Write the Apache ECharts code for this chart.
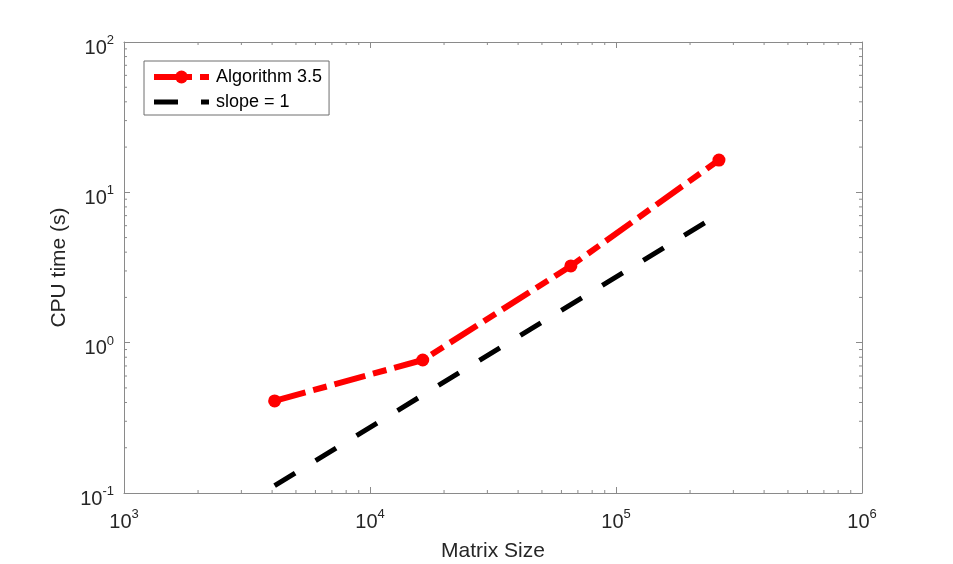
<!DOCTYPE html>
<html>
<head>
<meta charset="utf-8">
<title>CPU time vs Matrix Size</title>
<script src="https://cdn.jsdelivr.net/npm/echarts@6/dist/echarts.min.js"></script>
<style>
html,body{margin:0;padding:0;background:#fff;}
#main{width:953px;height:564px;}
</style>
</head>
<body>
<div id="main"></div>
<script>
// data
var matrixSize = [4096, 16384, 65536, 262144];
var cpuTime = [0.41, 0.767, 3.24, 16.4];
var slopeX = [4096, 262144];
var slopeY = [0.112, 7.17];

// axis ranges and minor tick values
var xRange = [1e3, 1e6];
var yRange = [1e-1, 1e2];
var minorTicksX = [2000, 3000, 4000, 5000, 6000, 7000, 8000, 9000,
	20000, 30000, 40000, 50000, 60000, 70000, 80000, 90000,
	200000, 300000, 400000, 500000, 600000, 700000, 800000, 900000];
var minorTicksY = [0.2, 0.3, 0.4, 0.5, 0.6, 0.7, 0.8, 0.9,
	2, 3, 4, 5, 6, 7, 8, 9,
	20, 30, 40, 50, 60, 70, 80, 90];

var FONT = "'Liberation Sans', Arial, Helvetica, sans-serif";
var TXT = '#262626';
var AX = '#8a8a8a';

function pairs(xs, ys){
	var out = [];
	for (var i = 0; i < xs.length; i++) out.push([xs[i], ys[i]]);
	return out;
}

function powLabel(value){
	var e = Math.round(Math.log10(value));
	return '{b|10}{s|' + e + '}';
}

var richPow = {
	b: {fontSize: 20, fontFamily: FONT, color: TXT, lineHeight: 24},
	s: {fontSize: 13, fontFamily: FONT, color: TXT, lineHeight: 13, padding: [0, 0, 15, 0]}
};

function axisBase(pos){
	return {
		type: 'log',
		logBase: 10,
		position: pos,
		axisLine: {show: true, onZero: false, lineStyle: {color: AX, width: 1}},
		axisTick: {show: true, inside: true, length: 6, lineStyle: {color: AX, width: 1}},
		splitLine: {show: false},
		minorTick: {show: false},
		minorSplitLine: {show: false}
	};
}

var xBottom = axisBase('bottom');
xBottom.min = xRange[0]; xBottom.max = xRange[1];
xBottom.name = 'Matrix Size';
xBottom.nameLocation = 'middle';
xBottom.nameGap = 48;
xBottom.nameTextStyle = {fontSize: 21, fontFamily: FONT, color: TXT};
xBottom.axisLabel = {show: true, margin: 17, formatter: powLabel, rich: richPow};

var xTop = axisBase('top');
xTop.min = xRange[0]; xTop.max = xRange[1];
xTop.axisLabel = {show: false};

var yLeft = axisBase('left');
yLeft.min = yRange[0]; yLeft.max = yRange[1];
yLeft.name = 'CPU time (s)';
yLeft.nameLocation = 'middle';
yLeft.nameGap = 54;
yLeft.nameTextStyle = {fontSize: 21, fontFamily: FONT, color: TXT};
yLeft.axisLabel = {show: true, margin: 10, formatter: powLabel, rich: richPow, padding: [12, 0, 0, 0]};

var yRight = axisBase('right');
yRight.min = yRange[0]; yRight.max = yRange[1];
yRight.axisLabel = {show: false};

var myChart = echarts.init(document.getElementById('main'));

var option = {
	backgroundColor: '#fff',
	animation: false,
	grid: {left: 124, right: 91, top: 42, bottom: 71, containLabel: false, outerBoundsMode: 'none'},
	legend: {
		data: [
			{name: 'Algorithm 3.5', lineStyle: {width: 6, type: [38, 8, 14, 8]}},
			{name: 'slope = 1', lineStyle: {width: 5, type: [24, 23]}, itemStyle: {opacity: 0}}
		],
		orient: 'vertical',
		left: 144,
		top: 61,
		padding: [7, 7, 4, 7],
		itemGap: 7,
		itemWidth: 55,
		itemHeight: 16,
		backgroundColor: '#fff',
		borderColor: '#6e6e6e',
		borderWidth: 1,
		borderRadius: 0,
		textStyle: {fontSize: 18, fontFamily: FONT, color: '#000', padding: [0, 0, 0, 2], lineHeight: 16}
	},
	xAxis: [xBottom, xTop],
	yAxis: [yLeft, yRight],
	series: [
		{
			name: 'Algorithm 3.5',
			type: 'line',
			xAxisIndex: 0,
			yAxisIndex: 0,
			data: pairs(matrixSize, cpuTime),
			symbol: 'circle',
			symbolSize: 13,
			itemStyle: {color: '#ff0000'},
			lineStyle: {color: '#ff0000', width: 6, type: [32, 8, 14, 8]},
			z: 3
		},
		{
			name: 'slope = 1',
			type: 'line',
			xAxisIndex: 0,
			yAxisIndex: 0,
			data: pairs(slopeX, slopeY),
			symbol: 'none',
			itemStyle: {color: '#000'},
			lineStyle: {color: '#000', width: 5, type: [24, 24]},
			z: 2
		},
		{
			// minor ticks on bottom and top
			name: 'minorX',
			type: 'custom',
			xAxisIndex: 0,
			yAxisIndex: 0,
			silent: true,
			data: minorTicksX.map(function(v){ return [v, 1]; }),
			renderItem: function(params, api){
				var cs = params.coordSys;
				var x = api.coord([api.value(0), 1])[0];
				var st = {stroke: AX, lineWidth: 1};
				return {type: 'group', children: [
					{type: 'line', shape: {x1: x, y1: cs.y + cs.height, x2: x, y2: cs.y + cs.height - 3}, style: st},
					{type: 'line', shape: {x1: x, y1: cs.y, x2: x, y2: cs.y + 3}, style: st}
				]};
			}
		},
		{
			// minor ticks on left and right
			name: 'minorY',
			type: 'custom',
			xAxisIndex: 0,
			yAxisIndex: 0,
			silent: true,
			data: minorTicksY.map(function(v){ return [1e4, v]; }),
			renderItem: function(params, api){
				var cs = params.coordSys;
				var y = api.coord([1e4, api.value(1)])[1];
				var st = {stroke: AX, lineWidth: 1};
				return {type: 'group', children: [
					{type: 'line', shape: {x1: cs.x, y1: y, x2: cs.x + 3, y2: y}, style: st},
					{type: 'line', shape: {x1: cs.x + cs.width, y1: y, x2: cs.x + cs.width - 3, y2: y}, style: st}
				]};
			}
		}
	]
};

myChart.setOption(option);
</script>
</body>
</html>
